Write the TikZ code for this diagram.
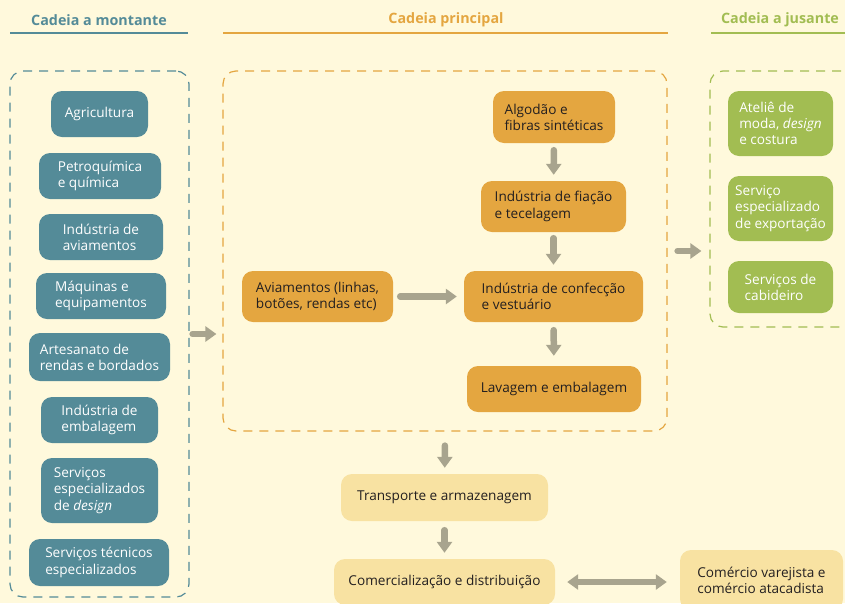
\documentclass[tikz,border=0pt]{standalone}
\usepackage{fontspec}
\setmainfont{Open Sans}
\usetikzlibrary{arrows.meta}
\definecolor{bgc}{HTML}{FFF9DC}
\definecolor{tealc}{HTML}{548B98}
\definecolor{orangec}{HTML}{E4A640}
\definecolor{lightc}{HTML}{F8E2A2}
\definecolor{greenc}{HTML}{A2BD52}
\definecolor{arrowc}{HTML}{A8A48E}
\definecolor{inkc}{HTML}{231F20}
\tikzset{
  box/.style={rounded corners=11pt, align=left, inner sep=0pt, font=\fontsize{13.6}{16.2}\selectfont},
  montbox/.style={box, fill=tealc, text=white},
  princbox/.style={box, fill=orangec, text=inkc},
  lightbox/.style={box, fill=lightc, text=inkc},
  jusbox/.style={box, fill=greenc, text=white},
  frame/.style={draw, dash pattern=on 9pt off 7pt, line width=1.2pt, rounded corners=13pt, inner sep=0pt},
  head/.style={font=\fontsize{14.3}{16}\selectfont\bfseries},
  flow/.style={draw=arrowc, line width=6.5pt, line cap=round, -{Triangle[length=11pt,width=15pt]}, shorten <=6pt, shorten >=6pt},
}
\begin{document}
\begin{tikzpicture}[x=1pt,y=-1pt]
\fill[bgc] (0,0) rectangle (845,603);
\useasboundingbox (0,0) rectangle (845,603);
\node[head, text=tealc] (hmont) at (99,20) {Cadeia a montante};
\node[head, text=orangec] (hprinc) at (446,20) {Cadeia principal};
\node[head, text=greenc] (hjus) at (780,20) {Cadeia a jusante};
\draw[tealc, line width=1.2pt] (10,33) -- (188,33);
\draw[orangec, line width=1.2pt] (223,33) -- (668,33);
\draw[greenc, line width=1.2pt] (711,33) -- (845,33);
\node[frame, draw=tealc, minimum width=179pt, minimum height=526pt] (montante) at (99.5,334) {};
\node[frame, draw=orangec, minimum width=444pt, minimum height=360pt] (principal) at (445,251) {};
\node[frame, draw=greenc, minimum width=160pt, minimum height=256pt] (jusante) at (790,199) {};
\node[montbox, minimum width=97pt, minimum height=46pt] (agri) at (99.5,114) {Agricultura};
\node[montbox, minimum width=122pt, minimum height=46pt] (petro) at (100,176) {Petroquímica\\e química};
\node[montbox, minimum width=124pt, minimum height=46pt] (aviind) at (101,237) {Indústria de\\aviamentos};
\node[montbox, minimum width=130pt, minimum height=46pt] (maq) at (101,296) {Máquinas e\\equipamentos};
\node[montbox, minimum width=141pt, minimum height=48pt] (artes) at (99.5,357) {Artesanato de\\rendas e bordados};
\node[montbox, minimum width=117pt, minimum height=46pt] (embind) at (99.5,420) {Indústria de\\embalagem};
\node[montbox, minimum width=117pt, minimum height=65pt] (servd) at (99.5,490.5) {Serviços\\especializados\\de \textit{design}};
\node[montbox, minimum width=140pt, minimum height=47pt] (servt) at (99,562.5) {Serviços técnicos\\especializados};
\node[princbox, minimum width=122pt, minimum height=52pt] (alg) at (554,117) {Algodão e\\fibras sintéticas};
\node[princbox, minimum width=145pt, minimum height=51pt] (fia) at (553.5,206.5) {Indústria de fiação\\e tecelagem};
\node[princbox, minimum width=179pt, minimum height=51pt] (conf) at (553.5,296.5) {Indústria de confecção\\e vestuário};
\node[princbox, minimum width=151pt, minimum height=51pt] (avi) at (317.5,296.5) {Aviamentos (linhas,\\botões, rendas etc)};
\node[princbox, minimum width=174pt, minimum height=46pt] (lav) at (554,389) {Lavagem e embalagem};
\node[lightbox, minimum width=207pt, minimum height=47pt] (transp) at (444.5,497.5) {Transporte e armazenagem};
\node[lightbox, minimum width=221pt, minimum height=46pt] (comer) at (444.5,582) {Comercialização e distribuição};
\node[lightbox, minimum width=163pt, minimum height=60pt] (varej) at (761.5,580) {Comércio varejista e\\comércio atacadista};
\node[jusbox, minimum width=105pt, minimum height=65pt] (atel) at (780.5,123.5) {Ateliê de\\moda, \textit{design}\\e costura};
\node[jusbox, minimum width=105pt, minimum height=65pt] (expo) at (780.5,208.5) {Serviço\\especializado\\de exportação};
\node[jusbox, minimum width=105pt, minimum height=52pt] (cab) at (780.5,287) {Serviços de\\cabideiro};
\draw[flow, shorten <=7pt] (alg) -- (fia);
\draw[flow] (fia) -- (conf);
\draw[flow, shorten <=8pt, shorten >=10pt] (conf) -- (lav);
\draw[flow, shorten <=7pt, shorten >=7pt] (avi) -- (conf);
\draw[flow, shorten <=3pt] (montante.east) -- (montante.east -| principal.west);
\draw[flow, shorten <=10pt, shorten >=8pt] (principal.east) -- (principal.east -| jusante.west);
\draw[flow, shorten <=14pt] (principal.south) -- (transp);
\draw[flow, shorten <=9pt] (transp) -- (comer);
\draw[flow, {Triangle[length=11pt,width=15pt]}-{Triangle[length=11pt,width=15pt]}, shorten <=12pt, shorten >=13pt] (comer) -- (comer -| varej.west);
\end{tikzpicture}
\end{document}
